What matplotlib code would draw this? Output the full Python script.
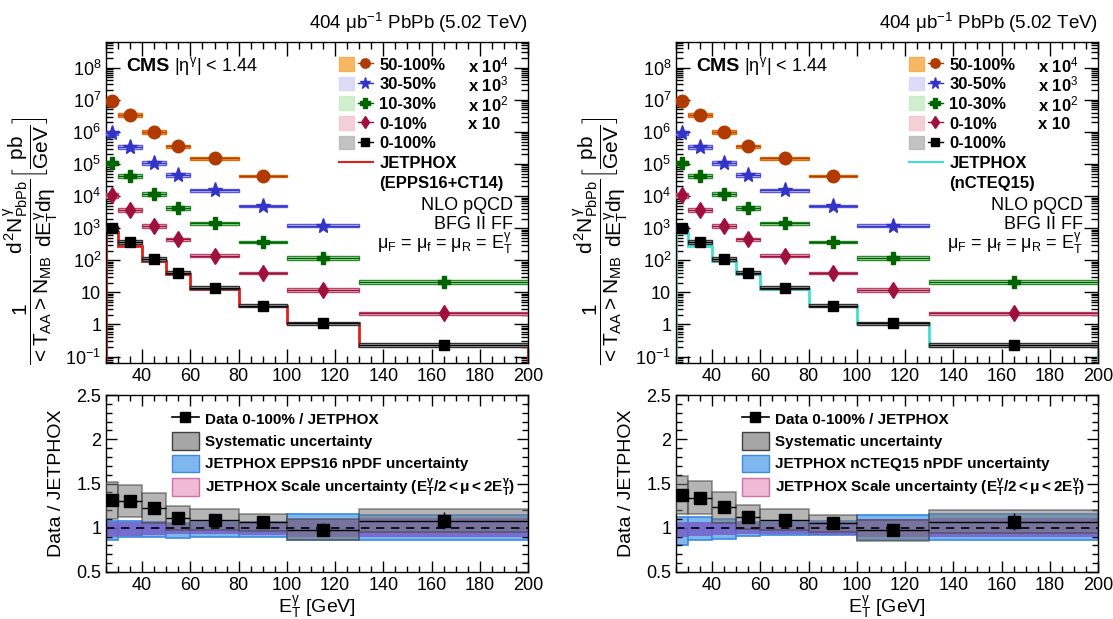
import numpy as np
import matplotlib
matplotlib.use('Agg')
import matplotlib.pyplot as plt
from matplotlib.patches import Rectangle, Patch
from matplotlib.lines import Line2D
from matplotlib.ticker import MultipleLocator, LogLocator, NullFormatter, FuncFormatter
from matplotlib.legend_handler import HandlerTuple

plt.rcParams['font.family'] = ['Liberation Sans', 'DejaVu Sans']
plt.rcParams['mathtext.fontset'] = 'custom'
plt.rcParams['mathtext.rm'] = 'Liberation Sans'
plt.rcParams['mathtext.it'] = 'Liberation Sans'
plt.rcParams['mathtext.bf'] = 'Liberation Sans:bold'

# E_T^gamma bins (GeV)
bin_lo = [25, 30, 40, 50, 60, 80, 100, 130]
bin_hi = [30, 40, 50, 60, 80, 100, 130, 200]
bin_x = [27.5, 35, 45, 55, 70, 90, 115, 165]

# spectra 1/<TAA> dN/dET (pb/GeV), before the display scale factor
cent_names = ['50-100%', '30-50%', '10-30%', '0-10%', '0-100%']
cent_scale = [1e4, 1e3, 1e2, 10, 1]
scale_txt = [r'x 10$^{4}$', r'x 10$^{3}$', r'x 10$^{2}$', 'x 10', '']
spec_50_100 = [930, 340, 98, 36, 15, 4.2]
spec_30_50 = [950, 350, 110, 46, 15, 5.0, 1.2]
spec_10_30 = [1100, 420, 120, 43, 14, 3.7, 1.2, 0.21]
spec_0_10 = [1070, 380, 120, 45, 14, 4.1, 1.2, 0.22]
spec_0_100 = [1000, 372, 113, 41, 14, 3.9, 1.1, 0.23]
syst_rel = [0.16, 0.14, 0.14, 0.12, 0.11, 0.09, 0.12, 0.12]
stat_rel = [0.05, 0.04, 0.03, 0.03, 0.03, 0.04, 0.07, 0.09]

# data / JETPHOX for 0-100%
ratio_epps = [1.31, 1.30, 1.22, 1.11, 1.09, 1.06, 0.98, 1.08]
ratio_ncteq = [1.37, 1.34, 1.23, 1.12, 1.09, 1.05, 0.97, 1.07]

# JETPHOX uncertainty bands (relative to the prediction)
epps_lo = [0.86, 0.89, 0.90, 0.88, 0.90, 0.90, 0.86, 0.86]
epps_hi = [1.08, 1.08, 1.07, 1.05, 1.06, 1.07, 1.15, 1.14]
ncteq_lo = [0.80, 0.86, 0.87, 0.91, 0.92, 0.92, 0.86, 0.86]
ncteq_hi = [1.12, 1.12, 1.10, 1.06, 1.06, 1.08, 1.14, 1.16]
scale_lo = [0.90, 0.91, 0.92, 0.93, 0.93, 0.92, 0.90, 0.89]
scale_hi = [1.07, 1.07, 1.06, 1.05, 1.05, 1.06, 1.10, 1.11]

spectra = [spec_50_100, spec_30_50, spec_10_30, spec_0_10, spec_0_100]
mk_color = ['#b03a00', '#3333c8', '#006400', '#a0103c', 'black']
box_face = ['#f5a640', '#d4d4f5', '#c4ecc4', '#f2c4cc', '#b4b4b4']
box_edge = ['#d87010', '#5a5ae0', '#2e8a2e', '#b04a6a', '#303030']
markers = ['o', '*', 'P', 'd', 's']
msizes = [9, 11, 9, 8, 7]

W, H = 1113, 619
fig = plt.figure(figsize=(W / 100, H / 100), dpi=100)


def px_axes(left, top, right, bottom):
    return fig.add_axes([left / W, 1 - bottom / H, (right - left) / W, (bottom - top) / H])


def log_fmt(v, pos):
    e = int(round(np.log10(v)))
    if e == 0:
        return '1'
    if e == 1:
        return '10'
    return r'10$^{%d}$' % e


def style_axis(ax):
    ax.tick_params(which='both', direction='in', top=True, right=True, labelsize=13, width=1)
    ax.tick_params(which='major', length=10)
    ax.tick_params(which='minor', length=5)
    for s in ax.spines.values():
        s.set_linewidth(1)


def draw_column(x0, ratio, jp_color, jp_name, npdf_name, npdf_lo, npdf_hi):
    x1 = x0 + 422
    edges = bin_lo + [bin_hi[-1]]
    jetphox = [d / r for d, r in zip(spec_0_100, ratio)]

    # ---------------- spectra
    ax = px_axes(x0, 42, x1, 363)
    ax.set_yscale('log')
    ax.set_xlim(25, 200)
    ax.set_ylim(10 ** -1.2, 10 ** 8.8)
    ax.stairs(jetphox, edges, color=jp_color, lw=2, zorder=2)
    for i, spec in enumerate(spectra):
        n = len(spec)
        v = np.array(spec) * cent_scale[i]
        for k in range(n):
            lo = v[k] * (1 - syst_rel[k])
            hi = v[k] * (1 + syst_rel[k])
            ax.add_patch(Rectangle((bin_lo[k], lo), bin_hi[k] - bin_lo[k], hi - lo,
                                   facecolor=box_face[i], edgecolor=box_edge[i], lw=1, zorder=3))
        ax.errorbar(bin_x[:n], v, yerr=v * np.array(stat_rel[:n]),
                    xerr=[np.array(bin_x[:n]) - np.array(bin_lo[:n]), np.array(bin_hi[:n]) - np.array(bin_x[:n])],
                    fmt=markers[i], color=mk_color[i], ms=msizes[i], elinewidth=1, capsize=0, zorder=4)
    ax.yaxis.set_major_locator(LogLocator(base=10, numticks=20))
    ax.yaxis.set_minor_locator(LogLocator(base=10, subs=np.arange(2, 10), numticks=20))
    ax.yaxis.set_minor_formatter(NullFormatter())
    ax.yaxis.set_major_formatter(FuncFormatter(log_fmt))
    ax.xaxis.set_major_locator(MultipleLocator(20))
    ax.xaxis.set_minor_locator(MultipleLocator(5))
    style_axis(ax)

    handles = []
    labels = []
    for i in range(5):
        handles.append((Patch(facecolor=box_face[i], edgecolor=box_face[i], alpha=0.8),
                        Line2D([], [], color=mk_color[i], marker=markers[i], ms=msizes[i] * 0.75, lw=1)))
        labels.append(cent_names[i])
    handles.append(Line2D([], [], color=jp_color, lw=1.5))
    labels.append('JETPHOX')
    handles.append(Line2D([], [], color='none'))
    labels.append(jp_name)
    leg = ax.legend(handles, labels, loc='upper left', bbox_to_anchor=(0.525, 0.99), frameon=False,
                    prop={'weight': 'bold', 'size': 12}, handlelength=2.0, handleheight=0.9,
                    handletextpad=0.4, labelspacing=0.24, borderpad=0.2,
                    handler_map={tuple: HandlerTuple(ndivide=None)})
    fig.canvas.draw()
    inv = ax.transAxes.inverted()
    for i, t in enumerate(leg.get_texts()[:4]):
        bb = t.get_window_extent()
        yc = inv.transform((0, (bb.y0 + bb.y1) / 2))[1]
        ax.text(0.858, yc, scale_txt[i], transform=ax.transAxes, fontsize=12,
                fontweight='bold', va='center', ha='left')

    ax.text(0.965, 0.49, 'NLO pQCD', transform=ax.transAxes, fontsize=13, ha='right', va='center')
    ax.text(0.965, 0.432, 'BFG II FF', transform=ax.transAxes, fontsize=13, ha='right', va='center')
    ax.text(0.965, 0.372, r'$\mu_{F}$ = $\mu_{f}$ = $\mu_{R}$ = E$^{\gamma}_{T}$', transform=ax.transAxes,
            fontsize=13, ha='right', va='center')
    ax.text(0.047, 0.925, 'CMS', transform=ax.transAxes, fontsize=14, fontweight='bold', va='center')
    ax.text(0.16, 0.925, r'|$\eta^{\gamma}$| < 1.44', transform=ax.transAxes, fontsize=13, va='center')
    ax.text(1.0, 1.022, r'404 $\mu$b$^{-1}$ PbPb (5.02 TeV)', transform=ax.transAxes,
            fontsize=13.5, ha='right', va='bottom')
    ax.set_ylabel(r'$\dfrac{1}{<T_{AA}>N_{MB}}\dfrac{d^{2}N^{\gamma}_{PbPb}}{dE^{\gamma}_{T}d\eta}\left[\dfrac{pb}{GeV}\right]$',
                  fontsize=15)
    ax.yaxis.set_label_coords(-0.108, 0.38)

    # ---------------- ratio
    rx = px_axes(x0, 395, x1, 572)
    rx.set_xlim(25, 200)
    rx.set_ylim(0.5, 2.5)
    for k in range(8):
        w = bin_hi[k] - bin_lo[k]
        rx.add_patch(Rectangle((bin_lo[k], npdf_lo[k]), w, npdf_hi[k] - npdf_lo[k],
                               facecolor='#80b6ee', edgecolor='#3a8ae0', lw=1.2, zorder=1))
        rx.add_patch(Rectangle((bin_lo[k], scale_lo[k]), w, scale_hi[k] - scale_lo[k],
                               facecolor='#7560c8', edgecolor='none', alpha=0.85, zorder=2))
        slo = ratio[k] * (1 - syst_rel[k])
        shi = ratio[k] * (1 + syst_rel[k])
        rx.add_patch(Rectangle((bin_lo[k], slo), w, shi - slo,
                               facecolor='#787878', edgecolor='#404040', alpha=0.55, lw=1.2, zorder=3))
    rx.axhline(1, color='black', ls='--', lw=1.2, dashes=(5, 4), zorder=4)
    r = np.array(ratio)
    rx.errorbar(bin_x, r, yerr=r * np.array(stat_rel),
                xerr=[np.array(bin_x) - np.array(bin_lo), np.array(bin_hi) - np.array(bin_x)],
                fmt='s', color='black', ms=8, elinewidth=1, capsize=0, zorder=5)
    rx.xaxis.set_major_locator(MultipleLocator(20))
    rx.xaxis.set_minor_locator(MultipleLocator(5))
    rx.yaxis.set_major_locator(MultipleLocator(0.5))
    rx.yaxis.set_minor_locator(MultipleLocator(0.1))
    rx.yaxis.set_major_formatter(FuncFormatter(lambda v, p: ('%g' % v)))
    style_axis(rx)
    rx.tick_params(which='major', length=8)
    rx.tick_params(which='minor', length=4)

    rh = [Line2D([], [], color='black', marker='s', ms=7, lw=1.2),
          Patch(facecolor='#a6a6a6', edgecolor='#404040'),
          Patch(facecolor='#80b6ee', edgecolor='#3a8ae0'),
          Patch(facecolor='#efbad6', edgecolor='#d070a8')]
    rl = ['Data 0-100% / JETPHOX', 'Systematic uncertainty', npdf_name,
          r'JETPHOX Scale uncertainty ($\mathregular{E^{\gamma}_{T}/2 < \mu < 2E^{\gamma}_{T}}$)']
    rx.legend(rh, rl, loc='upper left', bbox_to_anchor=(0.13, 0.975), frameon=False,
              prop={'weight': 'bold', 'size': 11}, handlelength=1.8, handleheight=1.4,
              handletextpad=0.4, labelspacing=0.3, borderpad=0.2)
    rx.set_xlabel(r'E$^{\gamma}_{T}$ [GeV]', fontsize=14, labelpad=0)
    rx.set_ylabel('Data / JETPHOX', fontsize=14, labelpad=8)


draw_column(106, ratio_epps, '#e0201a', '(EPPS16+CT14)', 'JETPHOX EPPS16 nPDF uncertainty', epps_lo, epps_hi)
draw_column(676, ratio_ncteq, '#40e0d0', '(nCTEQ15)', 'JETPHOX nCTEQ15 nPDF uncertainty', ncteq_lo, ncteq_hi)

fig.savefig('out.png', dpi=100)
